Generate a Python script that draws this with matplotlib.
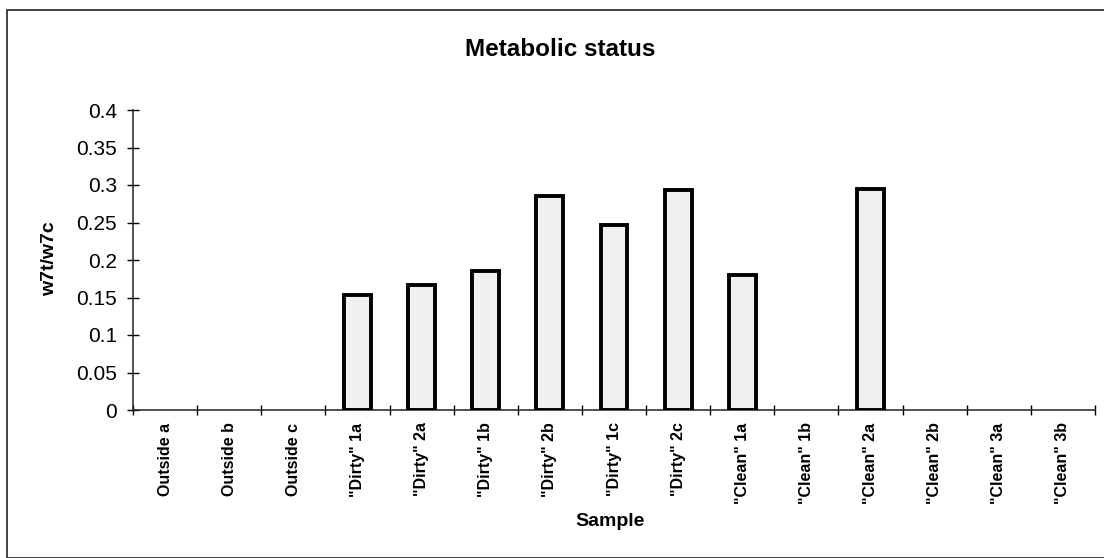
import numpy as np
import matplotlib.pyplot as plt
from matplotlib.patches import Rectangle
from matplotlib.ticker import FixedLocator, NullFormatter

plt.rcParams['font.family'] = ['Liberation Sans', 'DejaVu Sans']

# Daten
samples = ['Outside a', 'Outside b', 'Outside c',
           '"Dirty" 1a', '"Dirty" 2a', '"Dirty" 1b', '"Dirty" 2b', '"Dirty" 1c', '"Dirty" 2c',
           '"Clean" 1a', '"Clean" 1b', '"Clean" 2a', '"Clean" 2b', '"Clean" 3a', '"Clean" 3b']
ratio = [0, 0, 0,
         0.153, 0.167, 0.186, 0.285, 0.247, 0.293,
         0.180, 0, 0.295, 0, 0, 0]
y_ticks = [0, 0.05, 0.1, 0.15, 0.2, 0.25, 0.3, 0.35, 0.4]
y_tick_labels = ['0', '0.05', '0.1', '0.15', '0.2', '0.25', '0.3', '0.35', '0.4']

W, H = 1104, 558
fig = plt.figure(figsize=(W / 100, H / 100), dpi=100)
ax = fig.add_axes([133 / W, 1 - 410 / H, (1095 - 133) / W, 300 / H])

x = np.arange(len(samples))
# nur Balken mit Wert zeichnen (Nullwerte wären als Strich sichtbar)
mask = np.array(ratio) > 0
ax.bar(x[mask], np.array(ratio)[mask], width=0.42, color='#f0f0f0',
       edgecolor='black', linewidth=2.8, zorder=3)

ax.set_xlim(-0.5, len(samples) - 0.5)
ax.set_ylim(0, 0.4)

ax.set_yticks(y_ticks)
ax.set_yticklabels(y_tick_labels, fontsize=15)
ax.tick_params(axis='y', direction='inout', length=9, width=1, pad=7)

ax.set_xticks(x)
ax.set_xticklabels(samples, rotation=90, fontsize=11.5, fontweight='bold')
ax.tick_params(axis='x', which='major', length=0, pad=9)
ax.xaxis.set_minor_locator(FixedLocator(np.arange(-0.5, len(samples), 1.0)))
ax.xaxis.set_minor_formatter(NullFormatter())
ax.tick_params(axis='x', which='minor', direction='inout', length=7, width=1)

for s in ['top', 'right']:
    ax.spines[s].set_visible(False)
for s in ['left', 'bottom']:
    ax.spines[s].set_linewidth(1.1)
    ax.spines[s].set_color('#222222')

fig.text(560 / W, 1 - 50 / H, 'Metabolic status', ha='center', va='center',
         fontsize=17.5, fontweight='bold')
fig.text(50 / W, 1 - 259 / H, 'w7t/w7c', ha='center', va='center', rotation=90,
         fontsize=14, fontweight='bold')
fig.text(610 / W, 1 - 521 / H, 'Sample', ha='center', va='center',
         fontsize=14, fontweight='bold')

# Rahmen um das ganze Diagramm
fig.patches.append(Rectangle((7 / W, 0), (W - 6) / W, 1 - 10 / H,
                             transform=fig.transFigure, fill=False,
                             edgecolor='#333333', linewidth=1.3))

fig.savefig('out.png', dpi=100)
